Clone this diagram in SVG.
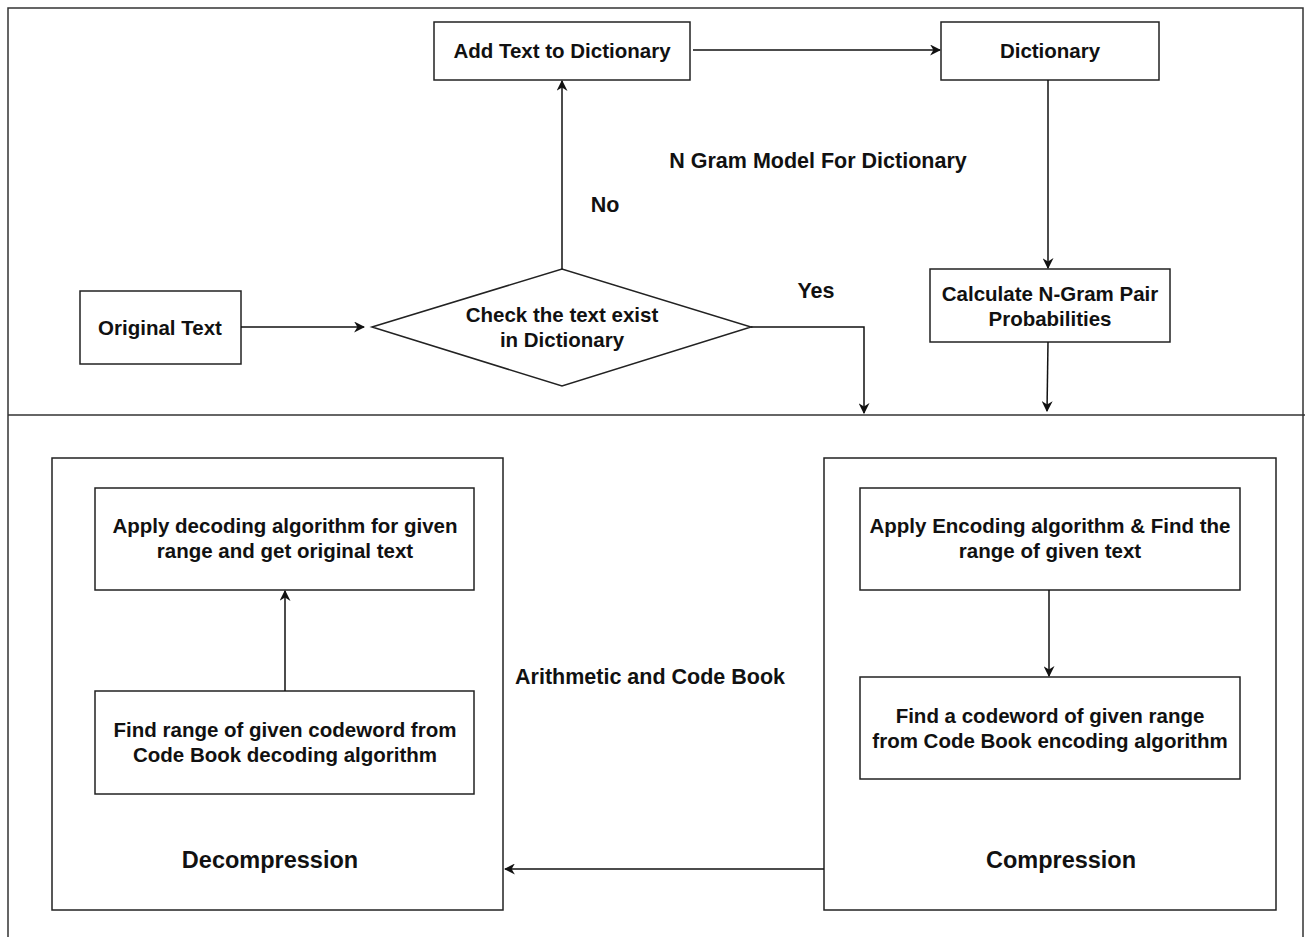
<svg xmlns="http://www.w3.org/2000/svg" width="1305" height="937" viewBox="0 0 1305 937">
<style>
.box{fill:#fff;stroke:#222;stroke-width:1.5}
.frame{fill:none;stroke:#333;stroke-width:1.5}
.t{font-family:"Liberation Sans",Arial,sans-serif;font-weight:bold;font-size:20.5px;fill:#111;text-anchor:middle}
.big{font-size:23.5px}
.lbl{font-size:21.5px}
.c{fill:none;stroke:#111;stroke-width:1.5}
</style>
<defs>
<marker id="ah" viewBox="0 0 10 10" refX="9" refY="5" markerWidth="11" markerHeight="11" markerUnits="userSpaceOnUse" orient="auto">
<path d="M0,0 L10,5 L0,10 L3,5 z" fill="#111"/>
</marker>
</defs>
<rect width="1305" height="937" fill="#fff"/>
<g id="frames">
<path class="frame" d="M8,937 L8,8 L1303,8 L1303,937"/>
<line class="frame" x1="8" y1="415" x2="1305" y2="415"/>
</g>
<g id="add-text"><rect class="box" x="434" y="22" width="256" height="58"/><text class="t" x="562" y="58">Add Text to Dictionary</text></g>
<g id="dictionary"><rect class="box" x="941" y="22" width="218" height="58"/><text class="t" x="1050" y="58">Dictionary</text></g>
<g id="original-text"><rect class="box" x="80" y="291" width="161" height="73"/><text class="t" x="160" y="335">Original Text</text></g>
<g id="check"><polygon class="box" points="372,327 562,269 751,327 562,386"/><text class="t" x="562" y="322">Check the text exist</text><text class="t" x="562" y="347">in Dictionary</text></g>
<g id="calc"><rect class="box" x="930" y="269" width="240" height="73"/><text class="t" x="1050" y="301">Calculate N-Gram Pair</text><text class="t" x="1050" y="326">Probabilities</text></g>
<g id="decompression"><rect class="box" x="52" y="458" width="451" height="452"/><text class="t big" x="270" y="868">Decompression</text></g>
<g id="apply-decoding"><rect class="box" x="95" y="488" width="379" height="102"/><text class="t" x="285" y="533">Apply decoding algorithm for given</text><text class="t" x="285" y="558">range and get original text</text></g>
<g id="find-range"><rect class="box" x="95" y="691" width="379" height="103"/><text class="t" x="285" y="737">Find range of given codeword from</text><text class="t" x="285" y="762">Code Book decoding algorithm</text></g>
<g id="compression"><rect class="box" x="824" y="458" width="452" height="452"/><text class="t big" x="1061" y="868">Compression</text></g>
<g id="apply-encoding"><rect class="box" x="860" y="488" width="380" height="102"/><text class="t" x="1050" y="533">Apply Encoding algorithm &amp; Find the</text><text class="t" x="1050" y="558">range of given text</text></g>
<g id="find-codeword"><rect class="box" x="860" y="677" width="380" height="102"/><text class="t" x="1050" y="723">Find a codeword of given range</text><text class="t" x="1050" y="748">from Code Book encoding algorithm</text></g>
<g id="labels">
<text class="t lbl" x="818" y="168">N Gram Model For Dictionary</text>
<text class="t lbl" x="605" y="212">No</text>
<text class="t lbl" x="816" y="298">Yes</text>
<text class="t lbl" x="650" y="684">Arithmetic and Code Book</text>
</g>
<g id="connectors">
<line class="c" x1="693" y1="50" x2="940" y2="50" marker-end="url(#ah)"/>
<line class="c" x1="241" y1="327" x2="364" y2="327" marker-end="url(#ah)"/>
<line class="c" x1="562" y1="269" x2="562" y2="81" marker-end="url(#ah)"/>
<polyline class="c" points="751,327 864,327 864,413" marker-end="url(#ah)"/>
<line class="c" x1="1048" y1="80" x2="1048" y2="268" marker-end="url(#ah)"/>
<line class="c" x1="1048" y1="342" x2="1047" y2="411" marker-end="url(#ah)"/>
<line class="c" x1="285" y1="691" x2="285" y2="591" marker-end="url(#ah)"/>
<line class="c" x1="1049" y1="590" x2="1049" y2="676" marker-end="url(#ah)"/>
<line class="c" x1="824" y1="869" x2="505" y2="869" marker-end="url(#ah)"/>
</g>
</svg>
